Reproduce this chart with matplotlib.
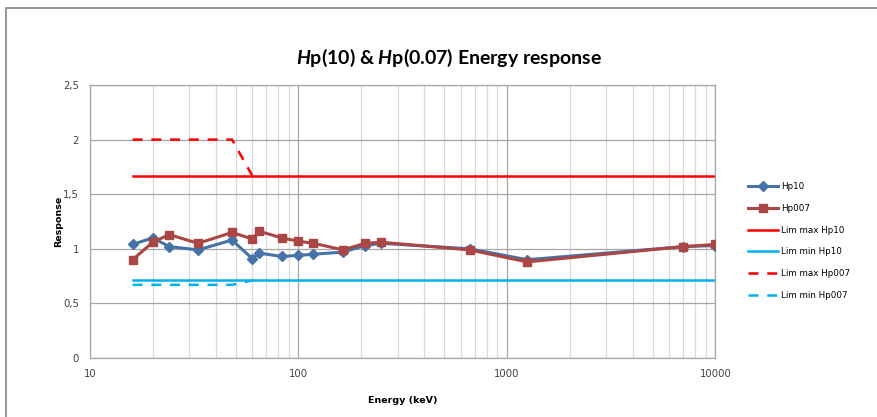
import matplotlib
matplotlib.use("Agg")
import matplotlib.pyplot as plt
from matplotlib.patches import Rectangle
from matplotlib.ticker import FixedLocator, LogLocator, FuncFormatter, NullFormatter

# energies (keV) and responses
energy = [16, 20, 24, 33, 48, 60, 65, 83, 100, 118, 164, 208, 250, 662, 1250, 7000, 10000]
hp10 = [1.04, 1.10, 1.02, 0.99, 1.08, 0.91, 0.96, 0.93, 0.94, 0.95, 0.97, 1.03, 1.05, 1.00, 0.90, 1.02, 1.03]
hp007 = [0.90, 1.06, 1.13, 1.05, 1.15, 1.09, 1.16, 1.10, 1.07, 1.05, 0.99, 1.05, 1.06, 0.99, 0.88, 1.02, 1.04]

lim_hp10_x = [16, 10000]
lim_max_hp10 = [1.67, 1.67]
lim_min_hp10 = [0.71, 0.71]
lim_hp007_x = [16, 48, 60]
lim_max_hp007 = [2.0, 2.0, 1.67]
lim_min_hp007 = [0.67, 0.67, 0.71]

y_ticks = [0, 0.5, 1, 1.5, 2, 2.5]

plt.rcParams['mathtext.fontset'] = 'custom'
plt.rcParams['mathtext.rm'] = 'Lato:bold'
plt.rcParams['mathtext.it'] = 'Lato:bold:italic'
plt.rcParams['mathtext.bf'] = 'Lato:bold'

W, H = 878, 417
fig = plt.figure(figsize=(W / 100, H / 100), dpi=100)
ax = fig.add_axes([90 / W, 1 - 358 / H, (715.5 - 90) / W, (358 - 85) / H])

# outer chart frame (cropped at right/bottom)
fig.patches.append(Rectangle((6 / W, -0.2), 2, 1.2 - 8 / H, transform=fig.transFigure,
                             fill=False, edgecolor='#8c8c8c', linewidth=1.3))

grid_major = '#a6a6a6'
grid_minor = '#d9d9d9'

ax.plot(energy, hp10, color='#4572A7', lw=2.2, marker='D', ms=5, label='Hp10', zorder=3)
ax.plot(energy, hp007, color='#AA4643', lw=2.2, marker='s', ms=6, label='Hp007', zorder=4)
ax.plot(lim_hp10_x, lim_max_hp10, color='#FF0000', lw=1.8, label='Lim max Hp10', zorder=3)
ax.plot(lim_hp10_x, lim_min_hp10, color='#00B0F0', lw=1.8, label='Lim min Hp10', zorder=3)
ax.plot(lim_hp007_x, lim_max_hp007, color='#FF0000', lw=1.8, dashes=(4, 3.5),
        label='Lim max Hp007', zorder=3)
ax.plot(lim_hp007_x, lim_min_hp007, color='#00B0F0', lw=1.8, dashes=(4, 3.5),
        label='Lim min Hp007', zorder=3)

ax.set_xscale('log')
ax.set_xlim(10, 10000)
ax.set_ylim(0, 2.5)
ax.xaxis.set_major_locator(FixedLocator([10, 100, 1000, 10000]))
ax.xaxis.set_minor_locator(LogLocator(base=10, subs=range(2, 10)))
ax.xaxis.set_minor_formatter(NullFormatter())
ax.xaxis.set_major_formatter(FuncFormatter(lambda v, p: '%d' % v))
ax.yaxis.set_major_locator(FixedLocator(y_ticks))
ax.yaxis.set_major_formatter(FuncFormatter(lambda v, p: ('%g' % v).replace('.', ',')))

ax.grid(True, which='major', color=grid_major, lw=0.9, zorder=0)
ax.grid(True, which='minor', axis='x', color=grid_minor, lw=0.9, zorder=0)
ax.set_axisbelow(True)
for s in ax.spines.values():
    s.set_color(grid_major)
    s.set_linewidth(0.9)
ax.tick_params(which='both', length=0, labelsize=7.3, colors='#404040', pad=8)

ax.set_xlabel('Energy (keV)', fontsize=6.8, fontweight='bold', labelpad=12)
ax.set_ylabel('Response', fontsize=6.8, fontweight='bold', labelpad=0)

fig.text(449 / W, 1 - 58 / H, r'$H$p(10) & $H$p(0.07) Energy response',
         ha='center', va='center', fontsize=14, family='Lato', fontweight='bold')

ax.legend(loc='center left', bbox_to_anchor=(745 / W, 1 - 241 / H), bbox_transform=fig.transFigure,
          frameon=False, fontsize=6.3, handlelength=3.4, handletextpad=0.3, labelspacing=1.45,
          borderaxespad=0)

fig.savefig('out.png', dpi=100)
